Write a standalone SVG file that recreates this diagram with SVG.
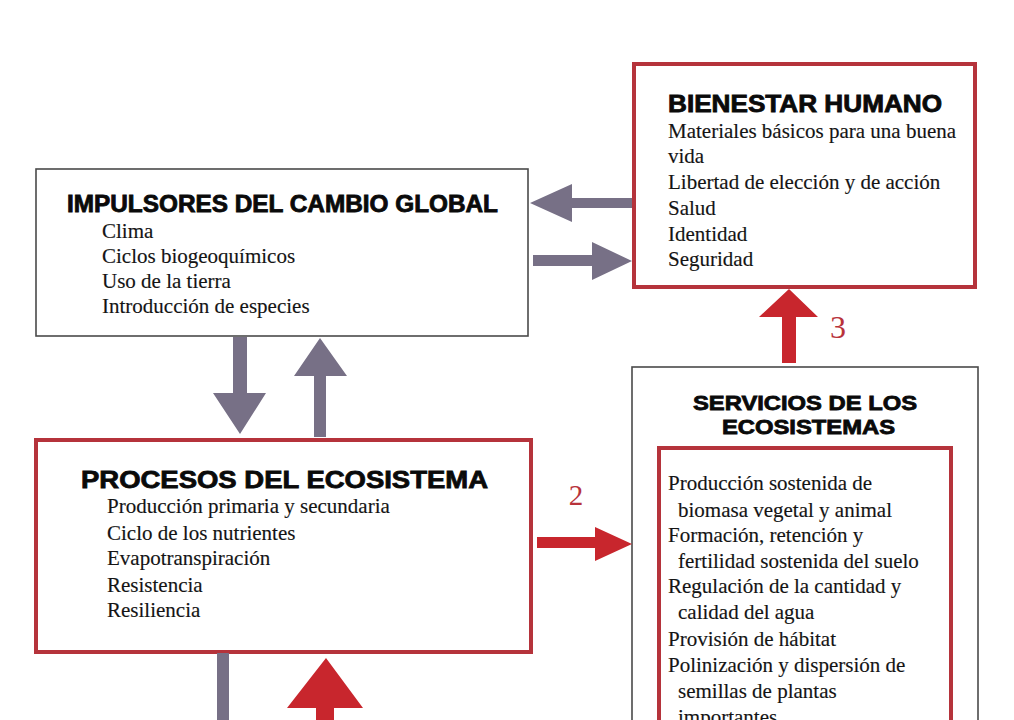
<svg xmlns="http://www.w3.org/2000/svg" width="1014" height="720" viewBox="0 0 1014 720">
<style>
.title{font-family:"Liberation Sans",Arial,sans-serif;font-weight:bold;fill:#0a0a0a;stroke:#0a0a0a;stroke-width:0.8}
.body{font-family:"Liberation Serif","Times New Roman",serif;font-size:21px;fill:#141414;stroke:#141414;stroke-width:0.15}
.num{font-family:"Liberation Serif","Times New Roman",serif;fill:#b8333b}
.gbox{fill:#ffffff;stroke:#4a4a4a;stroke-width:1.6}
.rbox{fill:#ffffff;stroke:#b5333b;stroke-width:4}
.garrow{fill:#777086}
.rarrow{fill:#c8262d}
</style>
<rect width="1014" height="720" fill="#ffffff"/>

<g id="impulsores">
<rect class="gbox" x="36" y="169" width="492" height="167"/>
<text class="title" x="67" y="212" font-size="23" textLength="431" lengthAdjust="spacingAndGlyphs">IMPULSORES DEL CAMBIO GLOBAL</text>
<text class="body" x="102" y="238">Clima</text>
<text class="body" x="102" y="263">Ciclos biogeoquímicos</text>
<text class="body" x="102" y="288">Uso de la tierra</text>
<text class="body" x="102" y="313">Introducción de especies</text>
</g>

<g id="bienestar">
<rect class="rbox" x="634" y="64" width="341" height="223" stroke-width="3.5"/>
<text class="title" x="668" y="112" font-size="23" textLength="274" lengthAdjust="spacingAndGlyphs">BIENESTAR HUMANO</text>
<text class="body" x="668" y="138">Materiales básicos para una buena</text>
<text class="body" x="668" y="163">vida</text>
<text class="body" x="668" y="189">Libertad de elección y de acción</text>
<text class="body" x="668" y="215">Salud</text>
<text class="body" x="668" y="241">Identidad</text>
<text class="body" x="668" y="266">Seguridad</text>
</g>

<g id="procesos">
<rect class="rbox" x="36" y="440" width="495" height="212" stroke-width="4.5"/>
<text class="title" x="81" y="488" font-size="24" textLength="407" lengthAdjust="spacingAndGlyphs">PROCESOS DEL ECOSISTEMA</text>
<text class="body" x="107" y="513">Producción primaria y secundaria</text>
<text class="body" x="107" y="540">Ciclo de los nutrientes</text>
<text class="body" x="107" y="565">Evapotranspiración</text>
<text class="body" x="107" y="592">Resistencia</text>
<text class="body" x="107" y="617">Resiliencia</text>
</g>

<g id="servicios">
<rect class="gbox" x="632" y="367" width="346" height="370"/>
<text class="title" x="693" y="410" font-size="20" textLength="224" lengthAdjust="spacingAndGlyphs">SERVICIOS DE LOS</text>
<text class="title" x="722" y="434" font-size="20" textLength="173" lengthAdjust="spacingAndGlyphs">ECOSISTEMAS</text>
<rect class="rbox" x="659" y="448" width="292" height="290"/>
<text class="body" x="668" y="490">Producción sostenida de</text>
<text class="body" x="678" y="517">biomasa vegetal y animal</text>
<text class="body" x="668" y="542">Formación, retención y</text>
<text class="body" x="678" y="568">fertilidad sostenida del suelo</text>
<text class="body" x="668" y="593">Regulación de la cantidad y</text>
<text class="body" x="678" y="619">calidad del agua</text>
<text class="body" x="668" y="646">Provisión de hábitat</text>
<text class="body" x="668" y="672">Polinización y dispersión de</text>
<text class="body" x="678" y="698">semillas de plantas</text>
<text class="body" x="678" y="724">importantes</text>
</g>

<g id="connectors">
<polygon class="garrow" points="632,198 572,198 572,184 530,203 572,222 572,208 632,208"/>
<polygon class="garrow" points="533,255 592,255 592,242 632,261 592,280 592,266 533,266"/>
<polygon class="garrow" points="233,337 247,337 247,393 266,393 240,434 213,393 233,393"/>
<polygon class="garrow" points="314,437 326,437 326,376 347,376 320,338 294,376 314,376"/>
<rect class="garrow" x="217" y="653" width="12" height="67"/>
<polygon class="rarrow" points="537,537 595,537 595,527 632,544 595,561 595,548 537,548"/>
<text class="num" x="576" y="505" font-size="29" text-anchor="middle">2</text>
<polygon class="rarrow" points="782,363 796,363 796,317 818,317 789,289 759,317 782,317"/>
<text class="num" x="838" y="338" font-size="32" text-anchor="middle">3</text>
<polygon class="rarrow" points="316,720 334,720 334,708 363,708 326,658 287,708 316,708"/>
</g>
</svg>
